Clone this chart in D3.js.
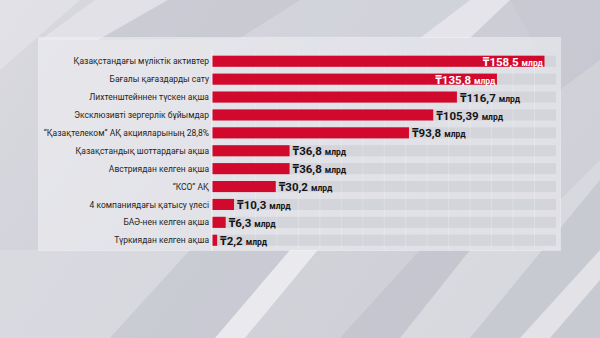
<!DOCTYPE html>
<html>
<head>
<meta charset="utf-8">
<script src="https://cdn.jsdelivr.net/npm/d3@7"></script>
<style>
  html, body { margin: 0; padding: 0; background: #cdced6; }
  svg { display: block; }
</style>
</head>
<body>
<svg id="chart" width="600" height="338"></svg>
<script>
// Categories (top to bottom) and amounts in billions of tenge
const categories = [
  "Қазақстандағы мүліктік активтер",
  "Бағалы қағаздарды сату",
  "Лихтенштейннен түскен ақша",
  "Эксклюзивті зергерлік бұйымдар",
  "\u201CҚазақтелеком\u201D АҚ акцияларының 28,8%",
  "Қазақстандық шоттардағы ақша",
  "Австриядан келген ақша",
  "\u201CКСО\u201D АҚ",
  "4 компаниядағы қатысу үлесі",
  "БАӘ-нен келген ақша",
  "Түркиядан келген ақша"
];
const values = [158.5, 135.8, 116.7, 105.39, 93.8, 36.8, 36.8, 30.2, 10.3, 6.3, 2.2];
const valueLabels = ["₸158,5", "₸135,8", "₸116,7", "₸105,39", "₸93,8", "₸36,8", "₸36,8", "₸30,2", "₸10,3", "₸6,3", "₸2,2"];
const unitLabel = "млрд";
const trackMax = 164;       // full length of the grey track behind each bar
const gridDivisions = 16;   // faint vertical guides across the track

const svg = d3.select("#chart");
const W = 600, H = 338;

// ---- background: grey studio backdrop with diagonal facets ----
const defs = svg.append("defs");
const bgGrad = defs.append("linearGradient").attr("id", "bg").attr("x1", 0).attr("x2", 1).attr("y1", 0).attr("y2", 0.4);
bgGrad.append("stop").attr("offset", 0).attr("stop-color", "#d9d9df");
bgGrad.append("stop").attr("offset", 0.5).attr("stop-color", "#cfd0d8");
bgGrad.append("stop").attr("offset", 1).attr("stop-color", "#c9cad3");
svg.append("rect").attr("width", W).attr("height", H).attr("fill", "url(#bg)");

const facets = [
  // [points, fill, opacity]
  [[[0,0],[80,0],[0,70]], "#e2e2e7", 0.8],
  [[[95,0],[168,0],[98,40],[40,40]], "#e6e6eb", 0.7],
  [[[168,0],[300,0],[240,38],[98,40]], "#c4c5ce", 0.6],
  [[[300,0],[470,0],[420,38],[240,38]], "#d6d7de", 0.5],
  [[[470,0],[510,0],[470,38],[420,38]], "#eeeef2", 0.7],
  [[[510,0],[600,0],[600,60],[560,90]], "#c6c7d0", 0.6],
  [[[0,250],[190,250],[110,338],[0,338]], "#dcdce2", 0.7],
  [[[190,250],[290,250],[215,338],[110,338]], "#c7c8d1", 0.6],
  [[[290,250],[318,250],[245,338],[215,338]], "#f1f1f4", 0.8],
  [[[318,250],[420,250],[340,338],[245,338]], "#d3d4db", 0.6],
  [[[420,250],[470,250],[400,338],[340,338]], "#c2c3cc", 0.6],
  [[[470,250],[560,250],[560,200],[600,160],[600,180],[470,338],[400,338]], "#e3e3e8", 0.6],
  [[[600,180],[600,338],[470,338]], "#c8c9d2", 0.6],
  [[[600,250],[600,280],[550,338],[520,338]], "#ececf0", 0.7],
  [[[560,90],[600,60],[600,160],[560,200]], "#d8d8de", 0.5]
];
svg.append("g").selectAll("polygon").data(facets).join("polygon")
  .attr("points", d => d[0].map(p => p.join(",")).join(" "))
  .attr("fill", d => d[1])
  .attr("opacity", d => d[2]);

// translucent panel behind the chart
svg.append("rect")
  .attr("x", 38).attr("y", 37).attr("width", 523).attr("height", 214)
  .attr("fill", "#f2f2f5").attr("opacity", 0.55);

// ---- scales ----
const x = d3.scaleLinear().domain([0, trackMax]).range([212.5, 556]);
const y = d3.scaleBand().domain(categories).range([52.3, 249.2])
  .paddingInner(0.38).paddingOuter(0.19);

const g = svg.append("g");

// grey tracks
g.selectAll("rect.track").data(categories).join("rect")
  .attr("class", "track")
  .attr("x", x(0)).attr("y", d => y(d))
  .attr("width", x(trackMax) - x(0)).attr("height", y.bandwidth())
  .attr("fill", "#d4d5db");

// faint vertical guides
const gridVals = d3.range(1, gridDivisions).map(i => i * trackMax / gridDivisions);
g.selectAll("line.grid").data(gridVals).join("line")
  .attr("class", "grid")
  .attr("x1", d => x(d)).attr("x2", d => x(d))
  .attr("y1", 52).attr("y2", 250)
  .attr("stroke", "#ffffff").attr("stroke-opacity", 0.28).attr("stroke-width", 0.8);

// baseline
g.append("line")
  .attr("x1", x(0) - 0.5).attr("x2", x(0) - 0.5)
  .attr("y1", 50).attr("y2", 251)
  .attr("stroke", "#f4f4f6").attr("stroke-width", 1);

// bars
const data = categories.map((c, i) => ({ c, v: values[i], label: valueLabels[i] }));
g.selectAll("rect.bar").data(data).join("rect")
  .attr("class", "bar")
  .attr("x", x(0)).attr("y", d => y(d.c))
  .attr("width", d => x(d.v) - x(0)).attr("height", y.bandwidth())
  .attr("fill", "#d10a2d");

// category labels
g.selectAll("text.cat").data(categories).join("text")
  .attr("class", "cat")
  .attr("x", x(0) - 3.5)
  .attr("y", d => y(d) + y.bandwidth() / 2 + 3.1)
  .attr("text-anchor", "end")
  .attr("font-family", "Roboto, 'Noto Sans', 'DejaVu Sans', sans-serif")
  .attr("font-size", 8.5)
  .attr("fill", "#1f1f22")
  .text(d => d);

// value labels: inside the bar end for the two longest, outside otherwise
const inside = d => d.v > 130;
const vl = g.selectAll("text.val").data(data).join("text")
  .attr("class", "val")
  .attr("x", d => inside(d) ? x(d.v) - 1.5 : x(d.v) + 3)
  .attr("y", d => y(d.c) + y.bandwidth() / 2 + 4.6)
  .attr("text-anchor", d => inside(d) ? "end" : "start")
  .attr("font-family", "Roboto, 'Noto Sans', 'DejaVu Sans', sans-serif")
  .attr("font-weight", 700)
  .attr("fill", d => inside(d) ? "#ffffff" : "#141416");
vl.append("tspan").attr("font-size", 11.5).text(d => d.label);
vl.append("tspan").attr("font-size", 8.5).attr("dx", 3).text(unitLabel);
</script>
</body>
</html>
